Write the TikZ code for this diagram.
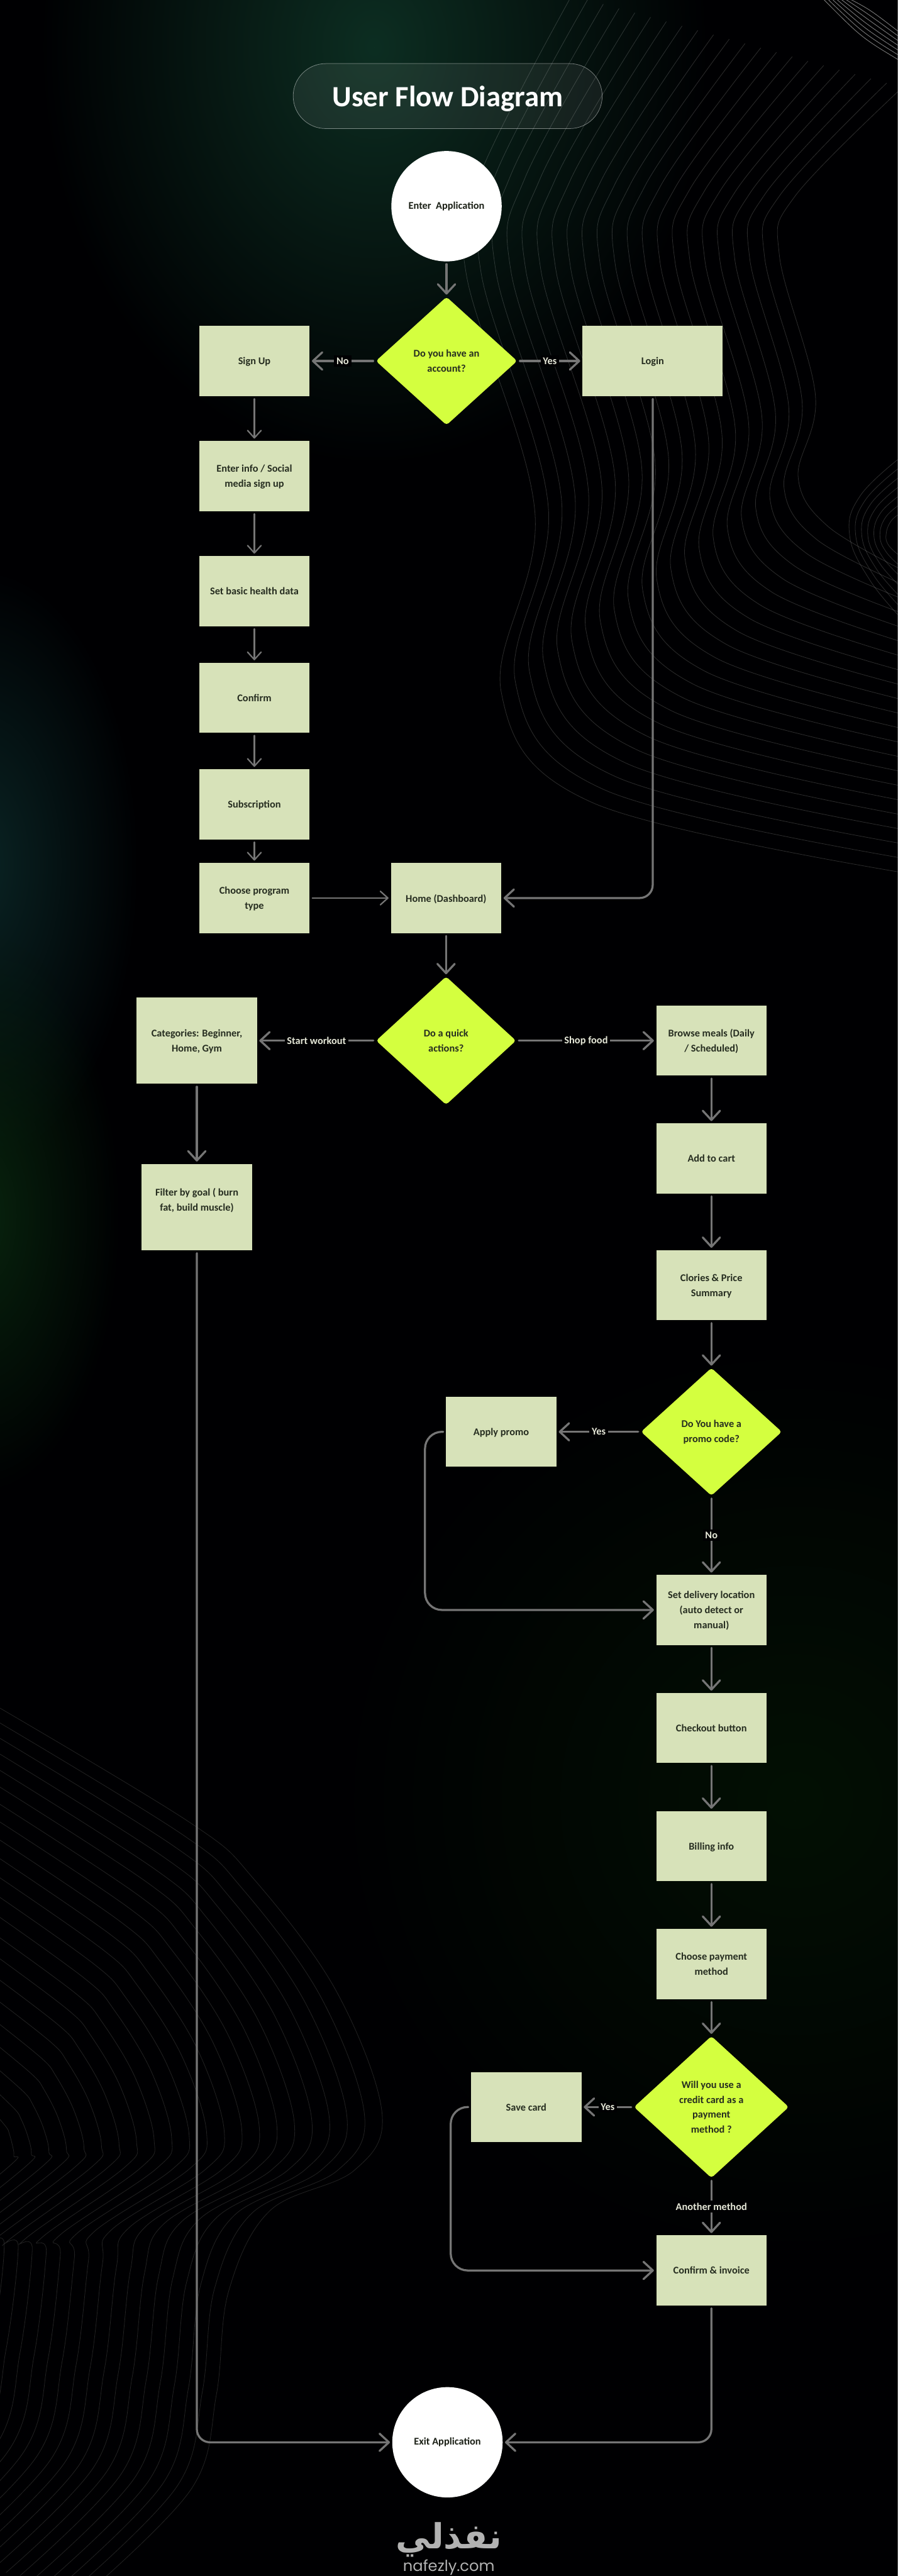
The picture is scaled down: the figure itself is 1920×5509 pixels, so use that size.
\documentclass[tikz,border=0pt]{standalone}
\usepackage{fontspec}
\setmainfont{Carlito}
\newfontfamily\arabicfont[Script=Arabic]{DejaVu Sans}
\newfontfamily\logofont{Poppins}
\TeXXeTstate=1
\definecolor{PageBlack}{HTML}{000002}
\definecolor{BoxGreen}{HTML}{D7E2B9}
\definecolor{BoxInk}{HTML}{262D20}
\definecolor{LimeFill}{HTML}{D4FF3F}
\definecolor{LineGray}{HTML}{757575}
\definecolor{LabelInk}{HTML}{E6E8D8}
\definecolor{GlowTop}{HTML}{0D2E22}
\definecolor{GlowLeft}{HTML}{0A2424}
\definecolor{GlowLow}{HTML}{08240E}
\definecolor{GlowRight}{HTML}{031004}
\usetikzlibrary{arrows.meta, positioning, calc, fadings, shapes.geometric, shapes.misc}
\tikzfading[name=glowfade, inner color=transparent!0, outer color=transparent!100]
\tikzset{
  flowbox/.style={fill=BoxGreen, text=BoxInk, minimum width=118pt, minimum height=75pt,
    inner sep=0pt, outer sep=0pt, align=center, text depth=-1pt, font=\fontsize{11}{16}\selectfont\bfseries},
  flowturn/.style={diamond, fill=LimeFill, text=BoxInk, rounded corners=3pt, aspect=1,
    inner sep=0pt, outer sep=0pt, align=center, font=\fontsize{11}{16}\selectfont\bfseries},
  flowend/.style={circle, fill=white, text=BoxInk!70!black, minimum size=118pt, inner sep=0pt,
    outer sep=0pt, font=\fontsize{11}{16}\selectfont\bfseries},
  flowlabel/.style={fill=PageBlack, text=LabelInk, inner sep=2.5pt,
    font=\fontsize{11}{16}\selectfont\bfseries},
  flowline/.style={draw=LineGray, line width=2.2pt, line cap=round, shorten <=3pt, shorten >=2.5pt,
    -{Straight Barb[round, length=10pt, width=18.5pt]}},
  flowthin/.style={draw=LineGray, line width=1.5pt, line cap=round, shorten <=3pt, shorten >=2.5pt,
    -{Straight Barb[round, length=8pt, width=14.5pt]}},
  contour/.style={draw=white, line width=.55pt},
}
\begin{document}
\begin{tikzpicture}[x=.5pt, y=-.5pt]
  \useasboundingbox (0,0) rectangle (1920,5509);
  \begin{scope}
    \clip (0,0) rectangle (1920,5509);
    \fill[PageBlack] (0,0) rectangle (1920,5509);
    \fill[GlowTop, path fading=glowfade] (800,100) ellipse (720 and 900);
    \fill[GlowLeft, path fading=glowfade] (-40,1850) ellipse (340 and 640);
    \fill[GlowLow, path fading=glowfade] (-40,2600) ellipse (300 and 600);
    \fill[GlowRight, path fading=glowfade] (1700,3850) ellipse (1000 and 1000);

    \coordinate (oa) at (1223,-10);  \coordinate (ia) at (1930,187);
    \coordinate (ob) at (1027,373);  \coordinate (ib) at (1700,420);
    \coordinate (oc) at (997,585);   \coordinate (ic) at (1667,547);
    \coordinate (od) at (1144,1095); \coordinate (id) at (1744,846);
    \coordinate (oe) at (1072,1480); \coordinate (ie) at (1707,1020);
    \coordinate (of) at (1266,1716); \coordinate (if) at (1770,1125);
    \coordinate (og) at (1930,1866); \coordinate (ig) at (1930,1219);
    \foreach \i in {0,...,21} {
      \pgfmathsetmacro\t{\i/21}
      \draw[contour, opacity=.17] plot[smooth, tension=.6] coordinates {
        ($(oa)!\t!(ia)$) ($(ob)!\t!(ib)$) ($(oc)!\t!(ic)$) ($(od)!\t!(id)$)
        ($(oe)!\t!(ie)$) ($(of)!\t!(if)$) ($(og)!\t!(ig)$)};
    }
    \foreach \i in {0,...,6} {
      \pgfmathsetmacro\tipx{1817+13*\i}
      \draw[contour, opacity=.17] plot[smooth, tension=.7] coordinates {
        (1930,{975+20*\i}) ({1840+11*\i},{1060+9*\i}) (\tipx,1144)
        ({1860+7*\i},{1240-12*\i}) (1930,{1325-22*\i})};
      \draw[contour, opacity=.5] ({1812-9*\i},-5) .. controls ({1860-3*\i},{20+10*\i}) .. (1925,{70+10*\i});
    }

    \foreach \j in {0,...,21} {
      \pgfmathsetmacro\starty{3550+(80+25*\j+.4*\j*\j)/.8}
      \pgfmathsetmacro\tipx{817-37.5*\j}
      \pgfmathsetmacro\tipy{4518+4.4*\j}
      \pgfmathsetmacro\rise{\tipy-\starty}
      \pgfmathsetmacro\shr{1-\j/26}
      \pgfmathsetmacro\wavx{463-30*\j}
      \pgfmathsetmacro\wavy{5120-6.4*\j}
      \draw[contour, opacity=.13] plot[smooth, tension=.6] coordinates {
        (-5,\starty) ({.5*\tipx},{\starty+.287*\rise}) ({.665*\tipx},{\starty+.425*\rise})
        ({.88*\tipx},{\starty+.7*\rise}) (\tipx,\tipy)
        ({\tipx-60*\shr},{\tipy+124*\shr}) ({\tipx-240},{\tipy+210}) ({\wavx+26},{\wavy-220})
        (\wavx,\wavy) ({\wavx-52},{\wavy+200}) ({\wavx-270},{\wavy+420})};
    }
  \end{scope}

  \node[rounded rectangle, fill=white, fill opacity=.07, draw=white, draw opacity=.45, line width=.5pt,
        text opacity=1, text=white, minimum width=330.5pt, minimum height=69.5pt, inner sep=0pt,
        text depth=0pt, font=\fontsize{31.5}{36}\selectfont\bfseries] (title) at (957.5,205.5)
    {User Flow Diagram};

  \node[flowend] (enterapp) at (955,441) {Enter\ \ Application};
  \node[flowturn, minimum width=151pt, minimum height=137pt, below=38pt of enterapp] (account)
    {Do you have an\\account?};
  \node[flowbox, left=71pt of account] (signup) {Sign Up};
  \node[flowbox, minimum width=150pt, right=70pt of account] (login) {Login};
  \node[flowbox, below=48pt of signup] (signinfo) {Enter info / Social\\media sign up};
  \node[flowbox, below=48pt of signinfo] (healthdata) {Set basic health data};
  \node[flowbox, below=39pt of healthdata] (confirmbox) {Confirm};
  \node[flowbox, below=39pt of confirmbox] (subscription) {Subscription};
  \node[flowbox, below=25.25pt of subscription] (programtype) {Choose program\\type};
  \node[flowbox, right=87pt of programtype] (home) {Home (Dashboard)};
  \node[flowturn, minimum width=149.5pt, minimum height=137pt, below=46.5pt of home] (quick)
    {Do a quick\\actions?};
  \node[flowbox, minimum width=128.5pt, minimum height=92.5pt, left=127.5pt of quick] (categories)
    {Categories: Beginner,\\Home, Gym};
  \node[flowbox, minimum height=92.5pt, below=85.5pt of categories] (filtergoal)
    {Filter by goal ( burn\\fat, build muscle)\\~};
  \node[flowbox, right=150pt of quick] (browse) {Browse meals (Daily\\/ Scheduled)};
  \node[flowbox, below=51pt of browse] (addcart) {Add to cart};
  \node[flowbox, below=60.5pt of addcart] (calories) {Clories \& Price\\Summary};
  \node[flowturn, minimum width=150.5pt, minimum height=136.5pt, below=51pt of calories] (promo)
    {Do You have a\\promo code?};
  \node[flowbox, left=90.5pt of promo] (applypromo) {Apply promo};
  \node[flowbox, below=84.75pt of promo] (delivery) {Set delivery location\\(auto detect or\\manual)};
  \node[flowbox, below=51.25pt of delivery] (checkout) {Checkout button};
  \node[flowbox, below=51.25pt of checkout] (billing) {Billing info};
  \node[flowbox, below=51.25pt of billing] (payment) {Choose payment\\method};
  \node[flowturn, minimum width=165.5pt, minimum height=151.5pt, below=39.5pt of payment] (creditcard)
    {Will you use a\\credit card as a\\payment\\method ?};
  \node[flowbox, left=56.25pt of creditcard] (savecard) {Save card};
  \node[flowbox, below=61.5pt of creditcard] (invoice) {Confirm \& invoice};
  \node[flowend] (exitapp) at (957,5223) {Exit Application};

  \node[text=black!30, font=\arabicfont\fontsize{37}{40}\selectfont\bfseries, inner sep=0pt] (logoar)
    at (960,5432) {\beginR نفذلي\endR};
  \node[text=black!30, font=\logofont\fontsize{16.3}{18}\selectfont, inner sep=0pt] (logoen)
    at (960,5490) {nafezly.com};

  \draw[flowline] (enterapp) -- (account);
  \draw[flowline] (account) -- (signup) node[midway, flowlabel] (acno) {No};
  \draw[flowline] (account) -- (login) node[midway, flowlabel] (acyes) {Yes};
  \draw[flowthin] (signup) -- (signinfo);
  \draw[flowthin] (signinfo) -- (healthdata);
  \draw[flowthin] (healthdata) -- (confirmbox);
  \draw[flowthin] (confirmbox) -- (subscription);
  \draw[flowthin] (subscription) -- (programtype);
  \draw[flowthin] (programtype) -- (home);
  \draw[flowline, rounded corners=14pt] (login) |- (home);
  \draw[flowline] (home) -- (quick);
  \draw[flowline] (quick) -- (categories) node[midway, flowlabel] (qkwork) {Start workout};
  \draw[flowline] (quick) -- (browse) node[midway, flowlabel] (qkfood) {Shop food};
  \draw[flowline] (categories) -- (filtergoal);
  \draw[flowline, rounded corners=14pt] (filtergoal) |- (exitapp);
  \draw[flowline] (browse) -- (addcart);
  \draw[flowline] (addcart) -- (calories);
  \draw[flowline] (calories) -- (promo);
  \draw[flowline] (promo) -- (applypromo) node[midway, flowlabel] (pryes) {Yes};
  \draw[flowline] (promo) -- (delivery) node[midway, flowlabel] (prno) {No};
  \draw[flowline, rounded corners=18pt] (applypromo.west) -- ++(-45,0) |- (delivery.west);
  \draw[flowline] (delivery) -- (checkout);
  \draw[flowline] (checkout) -- (billing);
  \draw[flowline] (billing) -- (payment);
  \draw[flowline] (payment) -- (creditcard);
  \draw[flowline] (creditcard) -- (savecard) node[midway, flowlabel] (ccyes) {Yes};
  \draw[flowline] (creditcard) -- (invoice) node[midway, flowlabel] (ccother) {Another method};
  \draw[flowline, rounded corners=18pt] (savecard.west) -- ++(-43.5,0) |- (invoice.west);
  \draw[flowline, rounded corners=14pt] (invoice) |- (exitapp);
\end{tikzpicture}
\end{document}
